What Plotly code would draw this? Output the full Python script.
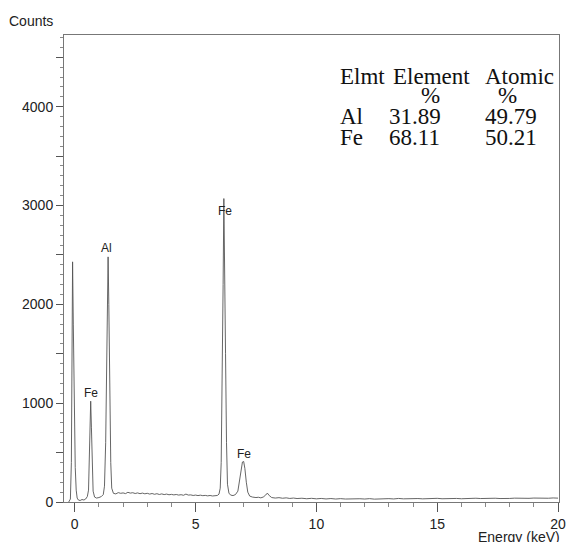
import plotly.graph_objects as go

# Spectrum values (energy in keV, counts)
energy = [-0.25, -0.18, -0.14, -0.11, -0.09, -0.06, -0.02, 0.02, 0.06, 0.10, 0.15, 0.22, 0.30, 0.38, 0.45,
          0.52, 0.57, 0.60, 0.63, 0.66, 0.69, 0.72, 0.76, 0.82, 0.90, 1.00, 1.10, 1.18,
          1.23, 1.28, 1.32, 1.36, 1.38, 1.41, 1.45, 1.49, 1.53, 1.58,
          1.6, 1.7, 1.8, 1.9, 2.0, 2.1, 2.2, 2.3, 2.4, 2.5, 2.6, 2.7, 2.8, 2.9, 3.0, 3.1, 3.2, 3.3, 3.4,
          3.5, 3.6, 3.7, 3.8, 3.9, 4.0, 4.1, 4.2, 4.3, 4.4, 4.5, 4.6, 4.7, 4.8, 4.9, 5.0, 5.1, 5.2, 5.3,
          5.4, 5.5, 5.6, 5.7, 5.8, 5.9,
          5.97, 6.02, 6.06, 6.10, 6.14, 6.17, 6.20, 6.24, 6.28, 6.32, 6.38, 6.45, 6.55, 6.65,
          6.75, 6.82, 6.88, 6.94, 6.99, 7.04, 7.10, 7.16, 7.24, 7.35,
          7.5, 7.6, 7.7, 7.8, 7.9, 7.97, 8.05, 8.15, 8.3, 8.45, 8.6, 8.75, 8.9, 9.05, 9.2, 9.4, 9.6, 9.8,
          10.0, 10.2, 10.4, 10.6, 10.8, 11.0, 11.2, 11.4, 11.6, 11.8, 12.0, 12.2, 12.4, 12.6, 12.8,
          13.0, 13.2, 13.4, 13.6, 13.8, 14.0, 14.2, 14.4, 14.6, 14.8, 15.0, 15.2, 15.4, 15.6, 15.8,
          16.0, 16.2, 16.4, 16.6, 16.8, 17.0, 17.2, 17.4, 17.6, 17.8, 18.0, 18.2, 18.4, 18.6, 18.8,
          19.0, 19.2, 19.4, 19.6, 19.8, 20.0]
counts = [0, 30, 400, 1500, 2430, 1800, 900, 350, 120, 40, 20, 15, 25, 20, 30,
          55, 120, 350, 750, 1020, 750, 330, 110, 50, 40, 45, 55, 75,
          160, 600, 1500, 2200, 2480, 2000, 1100, 400, 140, 95,
          88, 82, 95, 88, 92, 85, 98, 90, 94, 86, 92, 84, 90, 83, 88, 80, 86, 78, 84,
          76, 82, 75, 80, 73, 77, 72, 76, 70, 74, 68, 80, 70, 72, 66, 70, 65, 69, 64,
          67, 62, 66, 61, 64, 66,
          80, 140, 400, 1100, 2200, 3070, 2600, 1500, 600, 180, 90, 70, 65, 75,
          110, 220, 340, 405, 410, 340, 200, 100, 60, 50,
          45, 48, 42, 50, 70, 90, 65, 45, 40, 44, 38, 42, 36, 40, 35, 38, 33, 37,
          32, 36, 31, 35, 30, 34, 30, 33, 29, 33, 30, 34, 29, 33, 30,
          34, 31, 36, 32, 35, 31, 35, 32, 36, 33, 37, 33, 36, 32, 36,
          33, 37, 34, 38, 35, 38, 34, 38, 35, 39, 36, 39, 36, 40, 37,
          40, 37, 41, 38, 41, 39]

# Peak labels
peak_labels = ["Fe", "Al", "Fe", "Fe"]
peak_x = [0.66, 1.30, 6.20, 7.00]
peak_y = [1100, 2575, 2940, 485]

# Quantification table
table_header = ["Elmt", "Element", "Atomic"]
table_units = ["%", "%"]
table_elements = ["Al", "Fe"]
table_weight = ["31.89", "68.11"]
table_atomic = ["49.79", "50.21"]

x_ticks = [0, 5, 10, 15, 20]
y_ticks = [0, 500, 1000, 1500, 2000, 2500, 3000, 3500, 4000, 4500]
y_tick_text = ["0", "", "1000", "", "2000", "", "3000", "", "4000", ""]

fig = go.Figure()
fig.add_trace(go.Scatter(x=energy, y=counts, mode="lines",
                         line=dict(color="#555555", width=0.9), hoverinfo="skip",
                         showlegend=False))

sans = "Liberation Sans, Arial, sans-serif"
serif = "Liberation Serif, Times New Roman, serif"

for t, x, y in zip(peak_labels, peak_x, peak_y):
    fig.add_annotation(x=x, y=y, text=t, showarrow=False,
                       font=dict(family=sans, size=12, color="#222"))

# table: positions given in pixels of the figure, converted to paper units
tfont = dict(family=serif, size=23, color="#111")
header_px = [342, 396, 489]
row_py = [77, 96, 117, 138]
value_px = [342, 392, 489]
unit_px = [436, 514]

L, R, T, B = 64, 566, 35, 503


def px(v):
    return (v - L) / (R - L)


def py(v):
    return (B - v) / (B - T)


for hx, h in zip(header_px, table_header):
    fig.add_annotation(xref="paper", yref="paper", x=px(hx), y=py(row_py[0]), text=h,
                       showarrow=False, xanchor="left", yanchor="middle", font=tfont)
for ux, u in zip(unit_px, table_units):
    fig.add_annotation(xref="paper", yref="paper", x=px(ux), y=py(row_py[1]), text=u,
                       showarrow=False, xanchor="center", yanchor="middle", font=tfont)
for r, (el, w, a) in enumerate(zip(table_elements, table_weight, table_atomic)):
    for cx, txt in zip(value_px, [el, w, a]):
        fig.add_annotation(xref="paper", yref="paper", x=px(cx), y=py(row_py[2 + r]), text=txt,
                           showarrow=False, xanchor="left", yanchor="middle", font=tfont)

fig.add_annotation(xref="paper", yref="paper", x=px(6), y=py(21), text="Counts",
                   showarrow=False, xanchor="left", yanchor="middle",
                   font=dict(family=sans, size=14, color="#222"))
fig.add_annotation(xref="paper", yref="paper", x=px(569), y=py(538), text="Energy (keV)",
                   showarrow=False, xanchor="right", yanchor="middle",
                   font=dict(family=sans, size=14, color="#222"))

fig.update_xaxes(range=[-0.445, 20.04], tickvals=x_ticks, ticks="outside", ticklen=9,
                 tickcolor="#555", showline=True, linecolor="#777", linewidth=1, mirror=True,
                 showgrid=False, zeroline=False,
                 minor=dict(dtick=1, tick0=0, ticks="outside", ticklen=4, tickcolor="#888"),
                 tickfont=dict(family=sans, size=14, color="#222"))
fig.update_yaxes(range=[0, 4725], tickvals=y_ticks, ticktext=y_tick_text, ticks="outside", ticklen=7,
                 tickcolor="#555", showline=True, linecolor="#777", linewidth=1, mirror=True,
                 showgrid=False, zeroline=False,
                 minor=dict(dtick=100, tick0=0, ticks="outside", ticklen=3, tickcolor="#888"),
                 tickfont=dict(family=sans, size=14, color="#222"))

fig.update_layout(width=576, height=542, margin=dict(l=L, r=576 - R, t=T, b=542 - B),
                  plot_bgcolor="white", paper_bgcolor="white")

# remove the page's default body margin / scrollbars so the figure fills the window exactly
fig.write_html("out.html", config={"displayModeBar": False},
               post_script=("document.body.style.margin='0';document.body.style.overflow='hidden';"
                            "document.documentElement.style.overflow='hidden';"))
